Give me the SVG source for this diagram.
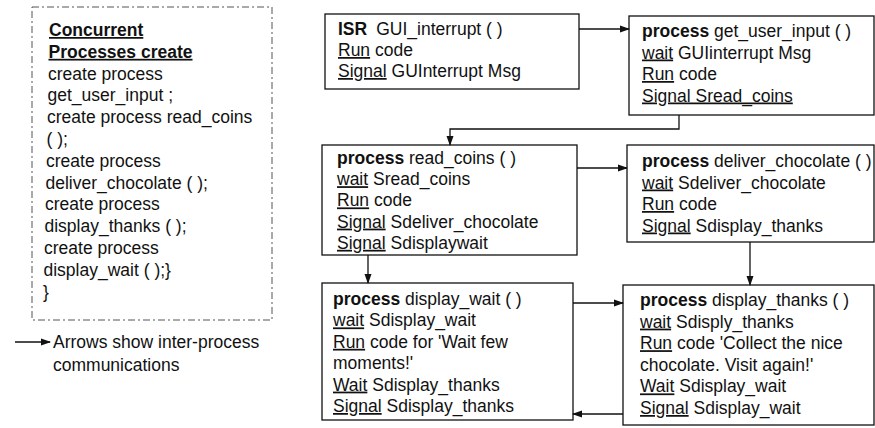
<svg xmlns="http://www.w3.org/2000/svg" width="875" height="428" viewBox="0 0 875 428">
<style>
text{font-family:"Liberation Sans",Arial,sans-serif;font-size:17.5px;fill:#111}
.b{font-weight:bold}
.u{text-decoration:underline}
.box{fill:#fff;stroke:#111;stroke-width:1.3}
.dash{fill:#fff;stroke:#555;stroke-width:1;stroke-dasharray:7 3 2 3}
.con{fill:none;stroke:#111;stroke-width:1.3}
</style>
<defs>
<marker id="ah" markerUnits="userSpaceOnUse" markerWidth="10" markerHeight="8" refX="9" refY="4" orient="auto">
<path d="M0,0.5 L10,4 L0,7.5 Z" fill="#111"/>
</marker>
</defs>
<rect width="875" height="428" fill="#fff"/>

<g id="create-list">
<rect class="dash" x="32" y="7" width="240" height="313"/>
<text x="49" y="36" class="b u">Concurrent</text>
<text x="48.5" y="57.8" class="b u">Processes create</text>
<text x="48" y="79.6">create process</text>
<text x="47.5" y="101.4">get_user_input ;</text>
<text x="47" y="123.2">create process read_coins</text>
<text x="46.5" y="145">( );</text>
<text x="46" y="166.8">create process</text>
<text x="45.5" y="188.6">deliver_chocolate ( );</text>
<text x="45" y="210.4">create process</text>
<text x="44.5" y="232.2">display_thanks ( );</text>
<text x="44" y="254">create process</text>
<text x="43.5" y="275.8">display_wait ( );}</text>
<text x="43" y="297.6">}</text>
</g>

<g id="legend">
<line class="con" x1="15" y1="342" x2="50" y2="342" marker-end="url(#ah)"/>
<text x="53" y="348">Arrows show inter-process</text>
<text x="53" y="371">communications</text>
</g>

<g id="isr">
<rect class="box" x="325" y="14" width="254" height="75"/>
<text x="338" y="35"><tspan class="b">ISR</tspan><tspan dx="9">GUI_interrupt ( )</tspan></text>
<text x="338" y="56"><tspan class="u">Run</tspan> code</text>
<text x="338" y="77"><tspan class="u">Signal</tspan> GUInterrupt Msg</text>
</g>

<g id="get_user_input">
<rect class="box" x="629" y="16" width="245" height="99"/>
<text x="642" y="37"><tspan class="b">process</tspan> get_user_input ( )</text>
<text x="642" y="58.5"><tspan class="u">wait</tspan> GUIinterrupt Msg</text>
<text x="642" y="80"><tspan class="u">Run</tspan> code</text>
<text x="642" y="101.5" class="u">Signal Sread_coins</text>
</g>

<g id="read_coins">
<rect class="box" x="322" y="145" width="255" height="110"/>
<text x="337" y="164"><tspan class="b">process</tspan> read_coins ( )</text>
<text x="337" y="185.2"><tspan class="u">wait</tspan> Sread_coins</text>
<text x="337" y="206.4"><tspan class="u">Run</tspan> code</text>
<text x="337" y="227.6"><tspan class="u">Signal</tspan> Sdeliver_chocolate</text>
<text x="337" y="248.8"><tspan class="u">Signal</tspan> Sdisplaywait</text>
</g>

<g id="deliver_chocolate">
<rect class="box" x="627" y="145" width="247" height="97"/>
<text x="642" y="167"><tspan class="b">process</tspan> deliver_chocolate ( )</text>
<text x="642" y="188.5"><tspan class="u">wait</tspan> Sdeliver_chocolate</text>
<text x="642" y="210"><tspan class="u">Run</tspan> code</text>
<text x="642" y="231.5"><tspan class="u">Signal</tspan> Sdisplay_thanks</text>
</g>

<g id="display_wait">
<rect class="box" x="322" y="283" width="251" height="137"/>
<text x="333" y="305"><tspan class="b">process</tspan> display_wait ( )</text>
<text x="333" y="326.4"><tspan class="u">wait</tspan> Sdisplay_wait</text>
<text x="333" y="347.8"><tspan class="u">Run</tspan> code for 'Wait few</text>
<text x="333" y="369.2">moments!'</text>
<text x="333" y="390.6"><tspan class="u">Wait</tspan> Sdisplay_thanks</text>
<text x="333" y="412"><tspan class="u">Signal</tspan> Sdisplay_thanks</text>
</g>

<g id="display_thanks">
<rect class="box" x="623" y="285" width="251" height="140"/>
<text x="640" y="306"><tspan class="b">process</tspan> display_thanks ( )</text>
<text x="640" y="327.6"><tspan class="u">wait</tspan> Sdisply_thanks</text>
<text x="640" y="349.2"><tspan class="u">Run</tspan> code 'Collect the nice</text>
<text x="640" y="370.8">chocolate. Visit again!'</text>
<text x="640" y="392.4"><tspan class="u">Wait</tspan> Sdisplay_wait</text>
<text x="640" y="414"><tspan class="u">Signal</tspan> Sdisplay_wait</text>
</g>

<g id="connectors">
<line class="con" x1="579" y1="29" x2="629" y2="29" marker-end="url(#ah)"/>
<polyline class="con" points="679,115 679,129 450,129 450,145" marker-end="url(#ah)"/>
<line class="con" x1="577" y1="168" x2="627" y2="168" marker-end="url(#ah)"/>
<line class="con" x1="368" y1="255" x2="368" y2="283" marker-end="url(#ah)"/>
<line class="con" x1="750" y1="242" x2="750" y2="285" marker-end="url(#ah)"/>
<line class="con" x1="573" y1="303" x2="623" y2="303" marker-end="url(#ah)"/>
<line class="con" x1="623" y1="414" x2="573" y2="414" marker-end="url(#ah)"/>
</g>
</svg>
